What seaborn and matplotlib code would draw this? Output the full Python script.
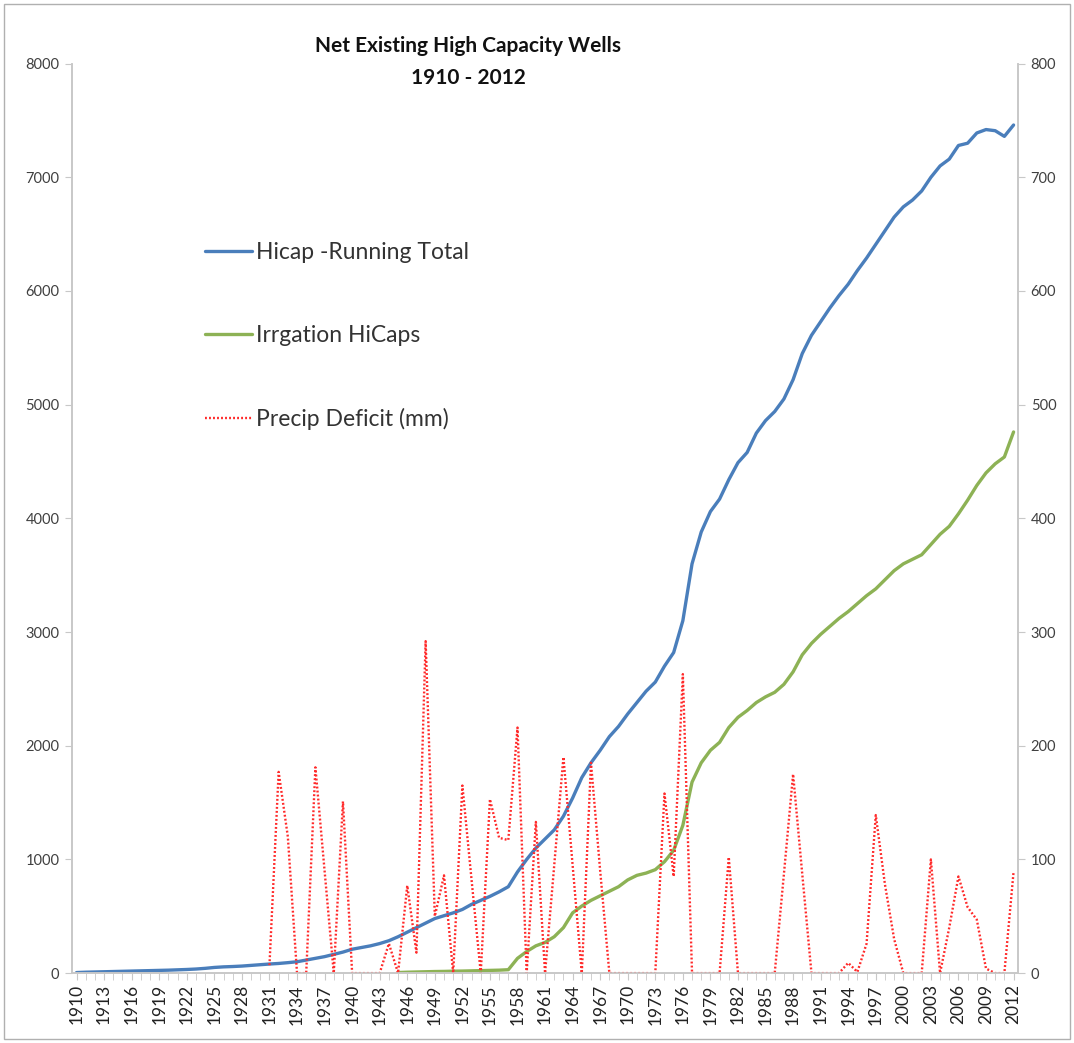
import numpy as np
import pandas as pd
import matplotlib.pyplot as plt
import seaborn as sns
from matplotlib.lines import Line2D
from matplotlib.patches import Rectangle

# --- data ---
years = list(range(1910, 2013))

hicap_total = [
    5, 8, 10, 12, 14, 16, 18, 20, 22, 24,
    26, 29, 32, 36, 42, 50, 55, 58, 62, 68,
    74, 80, 85, 92, 100, 115, 130, 145, 165, 185,
    210, 225, 240, 260, 285, 320, 360, 400, 440, 480,
    505, 530, 560, 605, 640, 675, 715, 760, 890, 1000,
    1100, 1180, 1260, 1380, 1540, 1720, 1850, 1960, 2080, 2170,
    2280, 2380, 2480, 2560, 2700, 2820, 3100, 3600, 3880, 4060,
    4170, 4340, 4490, 4580, 4750, 4860, 4940, 5050, 5220, 5450,
    5610, 5730, 5850, 5960, 6060, 6180, 6290, 6410, 6530, 6650,
    6740, 6800, 6880, 7000, 7100, 7160, 7280, 7300, 7390, 7420,
    7410, 7360, 7460,
]

# irrigation wells start in 1945
irrigation = [np.nan] * 35 + [
    5, 8, 10, 12, 14,
    15, 17, 18, 20, 22, 24, 26, 30, 130, 190,
    240, 270, 320, 400, 530, 590, 640, 680, 720, 760,
    820, 860, 880, 910, 980, 1080, 1300, 1680, 1850, 1960,
    2030, 2160, 2250, 2310, 2380, 2430, 2470, 2540, 2650, 2800,
    2900, 2980, 3050, 3120, 3180, 3250, 3320, 3380, 3460, 3540,
    3600, 3640, 3680, 3770, 3860, 3930, 4040, 4160, 4290, 4400,
    4480, 4540, 4760,
]

# precipitation deficit (mm) starts in 1931
precip = [np.nan] * 21 + [
    7, 177, 120, 0, 0, 181, 90, 0, 151, 0,
    0, 0, 0, 26, 0, 77, 18, 292, 50, 86,
    0, 165, 82, 0, 153, 119, 117, 216, 0, 133,
    0, 95, 190, 95, 0, 185, 90, 0, 0, 0,
    0, 0, 0, 158, 85, 263, 0, 0, 0, 0,
    102, 0, 0, 0, 0, 0, 87, 175, 87, 0,
    0, 0, 0, 9, 1, 26, 139, 78, 30, 0,
    0, 0, 100, 0, 40, 85, 58, 47, 4, 0,
    0, 89,
]

labels = ["Hicap -Running Total", "Irrgation HiCaps", "Precip Deficit (mm)"]
colors = ["#4a7ebb", "#8db255", "#ff2a2a"]

df = pd.DataFrame({"year": years, "hicap": hicap_total,
                   "irrig": irrigation, "precip": precip})

sns.set_style("white")
plt.rcParams["font.family"] = ["Lato", "DejaVu Sans"]

fig = plt.figure(figsize=(10.74, 10.43), dpi=100)
ax = fig.add_axes([0.067, 0.067, 0.881, 0.872])
ax2 = ax.twinx()

dots = (0, (0.8, 0.9))
sns.lineplot(data=df, x="year", y="hicap", ax=ax, color=colors[0], lw=2.4)
sns.lineplot(data=df, x="year", y="irrig", ax=ax, color=colors[1], lw=2.4)
sns.lineplot(data=df, x="year", y="precip", ax=ax2, color=colors[2],
             lw=1.7, linestyle=dots)

ax.set_xlim(1909.5, 2012.5)
ax.set_ylim(0, 8000)
ax2.set_ylim(0, 800)
ax.set_xlabel("")
ax.set_ylabel("")
ax2.set_ylabel("")

ax.set_xticks(years[::3])
ax.set_xticklabels([str(y) for y in years[::3]], rotation=90)
ax.set_xticks(years, minor=True)
ax.set_yticks(range(0, 8001, 1000))
ax2.set_yticks(range(0, 801, 100))

tick_col = "#404040"
axis_col = "#c8c8c8"
for a in (ax, ax2):
    for s in a.spines.values():
        s.set_color(axis_col)
        s.set_linewidth(1.2)
    a.spines["top"].set_visible(False)
ax.tick_params(axis="x", which="both", length=5, color=axis_col, labelsize=12.5,
               labelcolor="#222222", pad=3, bottom=True)
ax.tick_params(axis="y", length=5, color=axis_col, labelsize=10.5,
               labelcolor=tick_col, left=True, pad=4)
ax2.tick_params(axis="y", length=5, color=axis_col, labelsize=10.5,
                labelcolor=tick_col, right=True, pad=4)

fig.text(0.436, 0.941, "Net Existing High Capacity Wells\n1910 - 2012",
         ha="center", va="center", fontsize=15, fontweight="bold",
         color="#111111", linespacing=1.75)

handles = [Line2D([], [], color=colors[0], lw=2.4),
           Line2D([], [], color=colors[1], lw=2.4),
           Line2D([], [], color=colors[2], lw=1.7, linestyle=dots)]
fig.legend(handles, labels, loc="upper left", bbox_to_anchor=(0.180, 0.779),
           frameon=False, fontsize=16.5, labelspacing=2.7, handlelength=2.05,
           handletextpad=0.2, borderpad=0, labelcolor="#333333")

fig.patches.append(Rectangle((0.004, 0.004), 0.992, 0.992, transform=fig.transFigure,
                             fill=False, edgecolor="#b0b0b0", lw=1.0))

fig.savefig("out.png", dpi=100)
